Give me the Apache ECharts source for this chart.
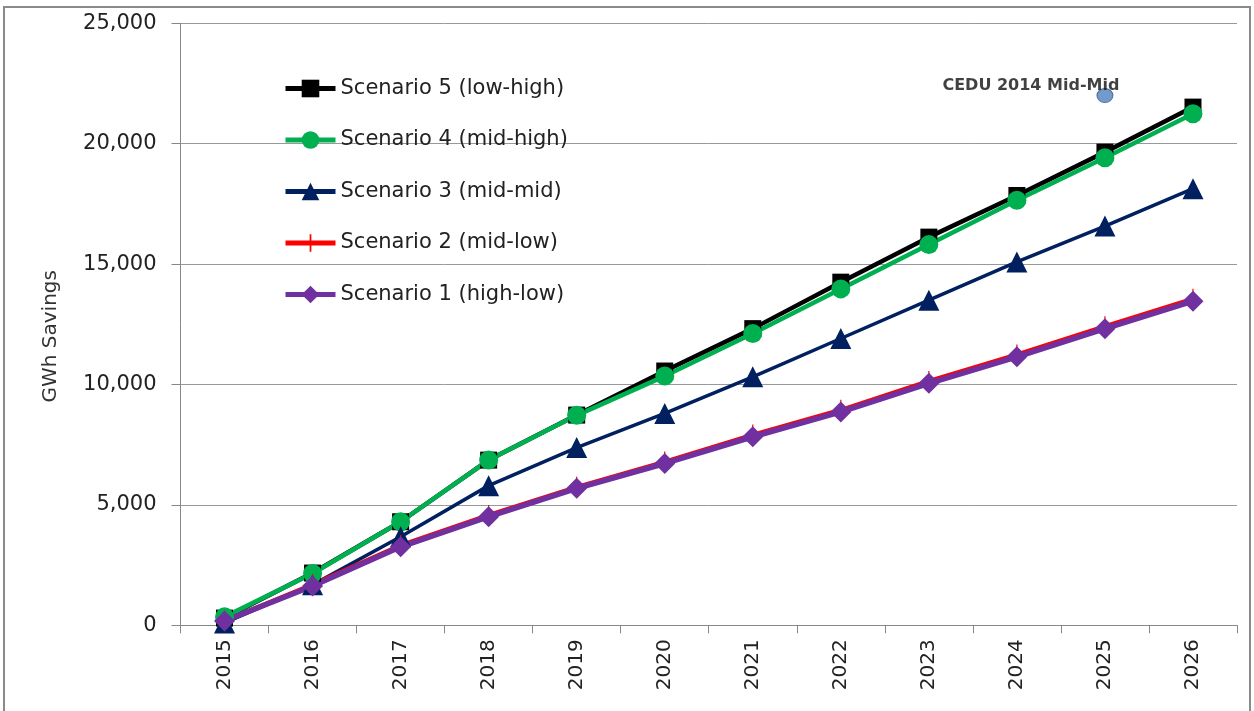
<!DOCTYPE html>
<html>
<head>
<meta charset="utf-8">
<script src="https://cdn.jsdelivr.net/npm/echarts@6/dist/echarts.min.js"></script>
<style>
html,body{margin:0;padding:0;background:#fff;}
#chart{width:1254px;height:711px;}
</style>
</head>
<body>
<div id="chart"></div>
<script>
const years = ['2015','2016','2017','2018','2019','2020','2021','2022','2023','2024','2025','2026'];
const scenario5 = [300, 2170, 4300, 6860, 8730, 10560, 12320, 14250, 16120, 17850, 19650, 21520];
const scenario4 = [350, 2150, 4300, 6860, 8720, 10350, 12120, 13970, 15810, 17650, 19420, 21240];
const scenario3 = [100, 1680, 3680, 5800, 7380, 8800, 10320, 11910, 13500, 15090, 16580, 18130];
const scenario2 = [200, 1700, 3330, 4580, 5750, 6800, 7920, 8950, 10150, 11250, 12420, 13560];
const scenario1 = [180, 1630, 3260, 4510, 5690, 6720, 7830, 8860, 10050, 11150, 12320, 13460];
const cedu = [['2025', 22000]];
const names = ['Scenario 5 (low-high)','Scenario 4 (mid-high)','Scenario 3 (mid-mid)','Scenario 2 (mid-low)','Scenario 1 (high-low)'];
const yTicks = [0, 5000, 10000, 15000, 20000, 25000];

const FONT = 'DejaVu Sans';
const chart = echarts.init(document.getElementById('chart'));
const crossPath = 'path://M-0.6,-10 H0.6 V-0.6 H6 V0.6 H0.6 V10 H-0.6 V0.6 H-6 V-0.6 H-0.6 Z';

function line(name, data, color, width, symbol, size) {
  return {
    name, type: 'line', data, symbol, symbolSize: size,
    lineStyle: {color, width}, itemStyle: {color},
    emphasis: {disabled: true}, animation: false
  };
}

chart.setOption({
  animation: false,
  textStyle: {fontFamily: FONT},
  graphic: [{
    type: 'rect', shape: {x: 4, y: 7, width: 1246, height: 730},
    style: {fill: 'none', stroke: '#8a8a8a', lineWidth: 2}, silent: true, z: -1
  }],
  grid: {left: 180.5, right: 17, top: 23.3, bottom: 85.7},
  legend: {
    data: names, orient: 'vertical', left: 278, top: 73,
    itemWidth: 50, itemHeight: 22, itemGap: 30.5,
    lineStyle: {width: 5},
    textStyle: {fontFamily: FONT, fontSize: 21, color: '#222'}
  },
  xAxis: {
    type: 'category', data: years, boundaryGap: true,
    axisLine: {lineStyle: {color: '#888', width: 1}},
    axisTick: {show: true, length: 8, lineStyle: {color: '#888'}},
    axisLabel: {rotate: 90, fontSize: 20, color: '#222', margin: 14, fontFamily: FONT}
  },
  yAxis: {
    type: 'value', min: yTicks[0], max: yTicks[yTicks.length-1], interval: 5000,
    name: 'GWh Savings', nameLocation: 'middle', nameGap: 120, nameRotate: 90,
    nameTextStyle: {fontSize: 20, color: '#333', fontFamily: FONT, padding: [0, 24, 0, 0]},
    axisLine: {show: true, lineStyle: {color: '#888', width: 1}},
    axisTick: {show: true, length: 9, lineStyle: {color: '#888'}},
    axisLabel: {fontSize: 21, color: '#222', margin: 24, fontFamily: FONT,
      formatter: v => v.toLocaleString('en-US')},
    splitLine: {lineStyle: {color: '#999', width: 1}}
  },
  series: [
    line(names[0], scenario5, '#000000', 4.5, 'rect', 17),
    line(names[1], scenario4, '#00B050', 4.5, 'circle', 19),
    line(names[2], scenario3, '#002060', 3.5, 'triangle', 21),
    line(names[3], scenario2, '#FF0000', 4, crossPath, [12, 20]),
    line(names[4], scenario1, '#7030A0', 5.5, 'diamond', 21),
    {
      name: 'CEDU 2014 Mid-Mid', type: 'scatter', data: cedu, symbol: 'circle', symbolSize: [16, 14],
      itemStyle: {color: '#4F81BD', borderColor: '#385D8A', borderWidth: 1},
      label: {show: true, formatter: 'CEDU 2014 Mid-Mid', position: 'inside', offset: [-74, -10],
        fontSize: 16, fontWeight: 'bold', color: '#111', fontFamily: FONT},
      z: 5, emphasis: {disabled: true}
    }
  ]
});
</script>
</body>
</html>
